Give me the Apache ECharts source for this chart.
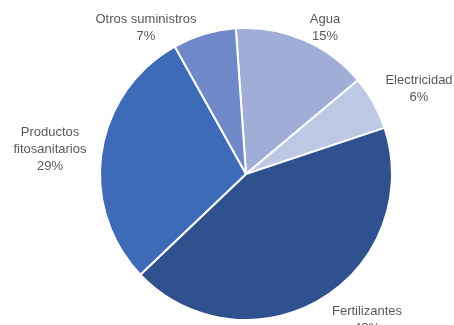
<!DOCTYPE html>
<html>
<head>
<meta charset="utf-8">
<script src="https://cdn.jsdelivr.net/npm/echarts@6/dist/echarts.min.js"></script>
<style>
html,body{margin:0;padding:0;background:#fff;}
#chart{width:454px;height:325px;}
</style>
</head>
<body>
<div id="chart"></div>
<script>
const categories = ['Agua', 'Electricidad', 'Fertilizantes', 'Productos\nfitosanitarios', 'Otros suministros'];
const values = [15, 6, 43, 29, 7];
const colors = ['#9FADD7', '#BDC8E5', '#2F528F', '#3E6BB8', '#6E88C8'];
const labelPos = [[325, 28], [419, 89], [367, 320], [50, 149], [146, 28]];

const chart = echarts.init(document.getElementById('chart'), null, {renderer: 'canvas'});
chart.setOption({
  animation: false,
  backgroundColor: '#ffffff',
  series: [{
    type: 'pie',
    center: [246, 174],
    radius: 146,
    startAngle: 94,
    clockwise: true,
    avoidLabelOverlap: false,
    itemStyle: {borderColor: '#ffffff', borderWidth: 2},
    label: {
      show: true,
      position: 'outside',
      formatter: '{b}\n{d}%',
      fontFamily: 'Liberation Sans',
      fontSize: 13,
      lineHeight: 17,
      color: '#595959',
      align: 'center'
    },
    labelLine: {show: false},
    labelLayout: function (p) {
      const pos = labelPos[p.dataIndex];
      return {x: pos[0], y: pos[1], align: 'center', verticalAlign: 'middle'};
    },
    emphasis: {disabled: true},
    data: categories.map((c, i) => ({name: c, value: values[i], itemStyle: {color: colors[i]}}))
  }]
});
</script>
</body>
</html>
